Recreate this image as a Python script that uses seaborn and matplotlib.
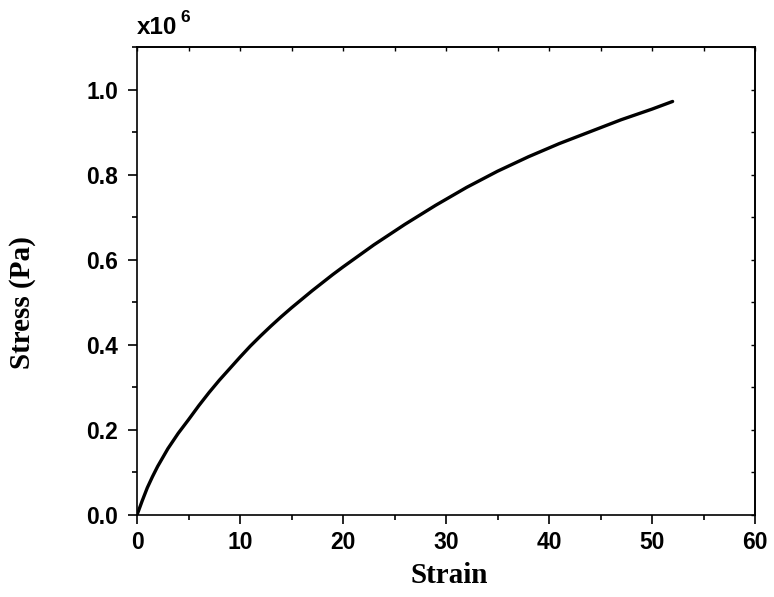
import matplotlib
matplotlib.use("Agg")
import matplotlib.pyplot as plt
from matplotlib.ticker import MultipleLocator, FormatStrFormatter
import seaborn as sns
import pandas as pd

# Data (stress in units of 1e6 Pa)
strain = [0, 0.5, 1, 1.5, 2, 3, 4, 5, 6, 7, 8, 9, 10, 11, 12, 13, 14, 15,
          16, 17, 18, 19, 20, 23, 26, 29, 32, 35, 38, 41, 44, 47, 50, 52]
stress = [0.0, 0.033, 0.064, 0.090, 0.114, 0.156, 0.192, 0.224, 0.257,
          0.288, 0.317, 0.344, 0.371, 0.397, 0.421, 0.444, 0.466, 0.487,
          0.507, 0.527, 0.546, 0.565, 0.583, 0.635, 0.683, 0.728, 0.770,
          0.808, 0.842, 0.873, 0.901, 0.929, 0.954, 0.972]

x_ticks = [0, 10, 20, 30, 40, 50, 60]
y_ticks = [0.0, 0.2, 0.4, 0.6, 0.8, 1.0]

sns.set_theme(style="white")
plt.rcParams["font.family"] = ["Liberation Sans", "DejaVu Sans"]
plt.rcParams["text.color"] = "black"
plt.rcParams["axes.labelcolor"] = "black"
plt.rcParams["xtick.color"] = "black"
plt.rcParams["ytick.color"] = "black"

df = pd.DataFrame({"Strain": strain, "Stress": stress})

fig = plt.figure(figsize=(7.74, 5.97), dpi=100)
ax = fig.add_axes([137 / 774, 82 / 597, 618 / 774, 468 / 597])

sns.lineplot(data=df, x="Strain", y="Stress", ax=ax, color="black",
             linewidth=2.4, sort=False, estimator=None)

ax.set_xlim(0, 60)
ax.set_ylim(0, 1.1)
ax.set_xticks(x_ticks)
ax.set_yticks(y_ticks)
ax.xaxis.set_minor_locator(MultipleLocator(5))
ax.yaxis.set_minor_locator(MultipleLocator(0.1))
ax.yaxis.set_major_formatter(FormatStrFormatter("%.1f"))

for sp in ax.spines.values():
    sp.set_color("black")
    sp.set_linewidth(1.2)

ax.tick_params(axis="both", which="major", direction="out", length=6.5,
               width=1.2, color="black", labelsize=16.5, pad=5,
               labelcolor="black",
               bottom=True, left=True, top=False, right=False)
ax.tick_params(axis="y", which="major", pad=7)
ax.tick_params(axis="both", which="minor", direction="out", length=3.5,
               width=1.2, color="black", bottom=True, left=True,
               top=False, right=False)
for lab in ax.get_xticklabels() + ax.get_yticklabels():
    lab.set_fontweight("bold")

# inward ticks on top and right
ax_top = ax.secondary_xaxis("top")
ax_top.set_xticks(x_ticks)
ax_top.xaxis.set_minor_locator(MultipleLocator(5))
ax_top.tick_params(which="both", direction="in", length=3, width=1.0,
                   labeltop=False, color="black")
ax_right = ax.secondary_yaxis("right")
ax_right.set_yticks(y_ticks)
ax_right.yaxis.set_minor_locator(MultipleLocator(0.1))
ax_right.tick_params(which="both", direction="in", length=3, width=1.0,
                     labelright=False, color="black")
for sax in (ax_top, ax_right):
    for sp in sax.spines.values():
        sp.set_linewidth(1.2)
        sp.set_color("black")

ax.set_xlabel("Strain", fontsize=21, fontweight="bold", color="black",
              family=["Liberation Serif", "DejaVu Serif"])
ax.set_ylabel("Stress (Pa)", fontsize=21, fontweight="bold", color="black",
              family=["Liberation Serif", "DejaVu Serif"])
ax.xaxis.set_label_coords(0.506, -0.101)
ax.yaxis.set_label_coords(-0.163, 0.453)

fig.text(137 / 774, 1 - 34 / 597, "x10", fontsize=17.5, fontweight="bold",
         ha="left", va="baseline", color="black")
fig.text(180 / 774, 1 - 22 / 597, "6", fontsize=12.5, fontweight="bold",
         ha="left", va="baseline", color="black")

fig.savefig("out.png", dpi=100, facecolor="white")
